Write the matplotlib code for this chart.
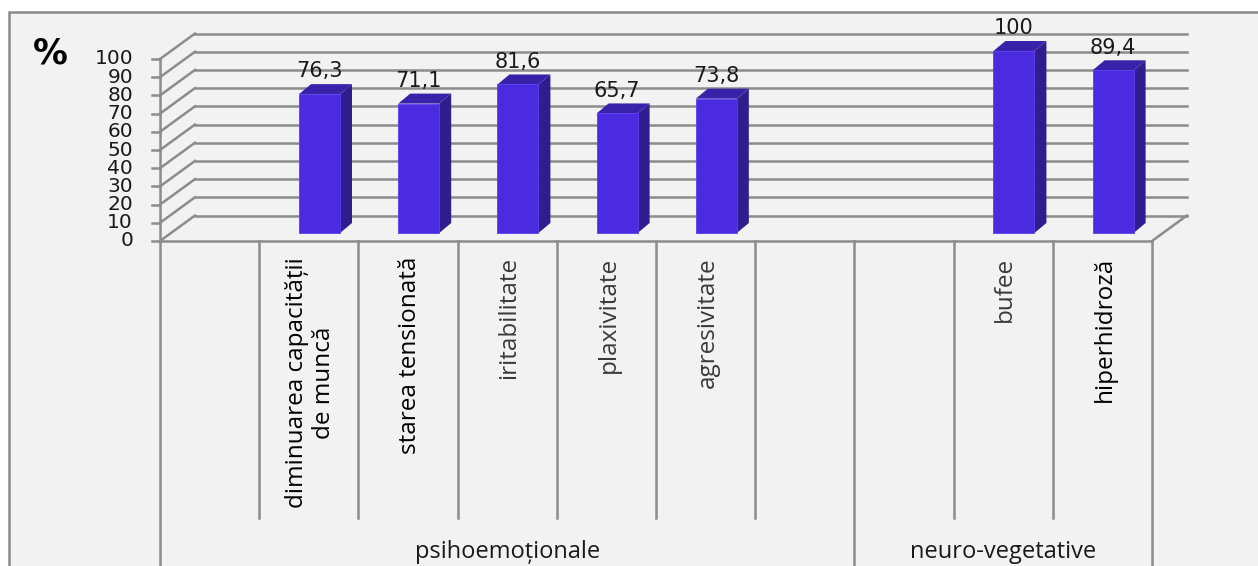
import matplotlib.pyplot as plt
from matplotlib.patches import Rectangle, Polygon

# ---------------- data ----------------
categories = ['', 'diminuarea capacității\nde muncă', 'starea tensionată', 'iritabilitate',
              'plaxivitate', 'agresivitate', '', '', 'bufee', 'hiperhidroză']
values = [None, 76.3, 71.1, 81.6, 65.7, 73.8, None, None, 100, 89.4]
strong_labels = ['diminuarea capacității\nde muncă', 'starea tensionată', 'hiperhidroză']
groups = ['psihoemoționale', 'neuro-vegetative']
group_sizes = [7, 3]
yticks = list(range(0, 101, 10))

# ---------------- geometry (pixel scale of the front plane) ----------------
W, H = 1258, 566
PX_X = 99.2      # pixels per category slot
PX_Y = 1.82      # pixels per percent
X0, Y0 = 160, 241  # pixel position of origin

DX, DY = 35 / PX_X, 25.5 / PX_Y          # full depth of floor / walls
OX, OY = 0.108, 8 / PX_Y                   # bar front face offset inside depth
BW = 41 / PX_X                             # bar width
BDX, BDY = 12 / PX_X, 10 / PX_Y            # bar depth

front_col = '#4B2BE0'
side_col = '#301D8E'
top_col = '#3822AA'
grid_col = '#8C8C8C'
LW = 1.8

fig = plt.figure(figsize=(W / 100, H / 100), dpi=100)
fig.patch.set_facecolor('white')
ax = fig.add_axes([0, 0, 1, 1])
ax.set_xlim(-X0 / PX_X, (W - X0) / PX_X)
ax.set_ylim(-(H - Y0) / PX_Y, Y0 / PX_Y)
ax.axis('off')

ybot = -(H - Y0) / PX_Y

# chart frame
ax.add_patch(Rectangle((-151 / PX_X, ybot - 10), 20, (Y0 - 12) / PX_Y - ybot + 10,
                       facecolor='#F2F2F2', edgecolor='#8A8A8A', lw=1.8, zorder=0))

n = len(categories)

# walls: side wall diagonals + back wall grid lines
for v in yticks:
    ax.plot([0, DX], [v, v + DY], color=grid_col, lw=LW, zorder=1)
    ax.plot([DX, n + DX], [v + DY, v + DY], color=grid_col, lw=LW, zorder=1)
    ax.plot([-8 / PX_X, 0], [v, v], color=grid_col, lw=LW, zorder=1)
    ax.text(-27 / PX_X, v, str(v), ha='right', va='center', fontsize=14.5,
            color='#1a1a1a', family='DejaVu Sans')

# floor front edge, right edge, value axis
ax.plot([0, n], [0, 0], color=grid_col, lw=LW, zorder=1)
ax.plot([n, n + DX], [0, DY], color=grid_col, lw=LW, zorder=1)
ax.plot([0, 0], [0, 100], color=grid_col, lw=LW, zorder=1)

# category dividers
boundaries = [0]
for s in group_sizes:
    boundaries.append(boundaries[-1] + s)
short_bottom = -(518 - Y0) / PX_Y
for i in range(n + 1):
    bottom = ybot - 5 if i in boundaries else short_bottom
    ax.plot([i, i], [0, bottom], color=grid_col, lw=LW, zorder=1)

# bars
for i, v in enumerate(values):
    if v is None:
        continue
    x0 = i + 0.5 - BW / 2 + OX
    x1 = x0 + BW
    ax.add_patch(Polygon([(x1, OY), (x1 + BDX, OY + BDY), (x1 + BDX, OY + v + BDY), (x1, OY + v)],
                         closed=True, facecolor=side_col, edgecolor='none', zorder=3))
    ax.add_patch(Polygon([(x0, OY + v), (x1, OY + v), (x1 + BDX, OY + v + BDY), (x0 + BDX, OY + v + BDY)],
                         closed=True, facecolor=top_col, edgecolor='none', zorder=3))
    ax.add_patch(Rectangle((x0, OY), BW, v, facecolor=front_col, edgecolor='#5A3EF0',
                           lw=0.6, zorder=4))
    label = f"{v:g}".replace('.', ',')
    ax.text(i + 0.5 + OX, OY + v + BDY + 1.5, label, ha='center', va='bottom',
            fontsize=15, color='#1a1a1a', family='DejaVu Sans', zorder=5)

# category labels
for i, c in enumerate(categories):
    if not c:
        continue
    strong = c in strong_labels
    ax.text(i + 0.52, -(257 - Y0) / PX_Y, c,
            rotation=90, ha='center', va='top', multialignment='center',
            fontsize=17.5, family='Open Sans',
            color='#000000' if strong else '#3a3a3a', linespacing=1.15)

# group labels
for g, a, b in zip(groups, boundaries[:-1], boundaries[1:]):
    ax.text((a + b) / 2, -(552 - Y0) / PX_Y, g, ha='center', va='center',
            fontsize=17, family='Open Sans', color='#1a1a1a')

# axis title
ax.text(-110 / PX_X, (Y0 - 53) / PX_Y, '%', ha='center', va='center',
        fontsize=25, fontweight='bold', family='DejaVu Sans', color='black')

fig.savefig('out.png', dpi=100)
